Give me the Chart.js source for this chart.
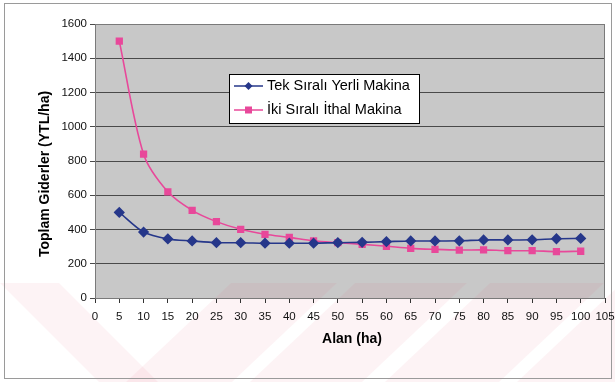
<!DOCTYPE html>
<html>
<head>
<meta charset="utf-8">
<script src="https://cdn.jsdelivr.net/npm/chart.js@4/dist/chart.umd.min.js"></script>
<style>
  html, body { margin: 0; padding: 0; background: #ffffff; }
  canvas { display: block; }
</style>
</head>
<body>
<canvas id="c" width="615" height="382"></canvas>
<script>
// Area (ha) and total costs (YTL/ha) for the two planting machines
const areas = [5, 10, 15, 20, 25, 30, 35, 40, 45, 50, 55, 60, 65, 70, 75, 80, 85, 90, 95, 100];
const tekSiraliYerli = [500, 385, 345, 333, 323, 323, 320, 320, 320, 323, 325, 329, 333, 333, 334, 339, 339, 340, 346, 348];
const ikiSiraliIthal = [1500, 840, 620, 512, 446, 401, 372, 354, 334, 323, 313, 302, 290, 284, 280, 281, 276, 276, 271, 273];
const seriesNames = ['Tek Sıralı Yerli Makina', 'İki Sıralı İthal Makina'];
const xTitle = 'Alan (ha)';
const yTitle = 'Toplam Giderler (YTL/ha)';

const toPoints = (vals) => areas.map((a, i) => ({ x: a, y: vals[i] }));

const FONT = '"Liberation Sans", Arial, sans-serif';
const BLUE = '#26378a';
const PINK = '#e8489a';

// Background, plot fill and the faint stripe print behind the chart
const backdrop = {
  id: 'backdrop',
  beforeDraw(chart) {
    const { ctx, chartArea: a, width, height } = chart;
    ctx.save();
    ctx.fillStyle = '#ffffff';
    ctx.fillRect(0, 0, width, height);
    ctx.fillStyle = '#c8c8c8';
    ctx.fillRect(a.left, a.top, a.right - a.left, a.bottom - a.top);

    ctx.fillStyle = 'rgba(232, 80, 110, 0.07)';
    const top = 283, bot = 382;
    const bands = [
      [[0, top], [59, top], [158, bot], [99, bot]],
      [[231, top], [337, top], [232, bot], [126, bot]],
      [[355, top], [467, top], [362, bot], [250, bot]],
      [[490, top], [604, top], [499, bot], [385, bot]],
      [[622, top], [735, top], [630, bot], [517, bot]]
    ];
    bands.forEach(p => {
      ctx.beginPath();
      ctx.moveTo(p[0][0], p[0][1]);
      for (let i = 1; i < p.length; i++) ctx.lineTo(p[i][0], p[i][1]);
      ctx.closePath();
      ctx.fill();
    });

    // outer frame
    ctx.strokeStyle = '#9a9a9a';
    ctx.lineWidth = 1;
    ctx.strokeRect(4.5, 3.5, 607, 375);
    ctx.restore();
  },
  afterDraw(chart) {
    const { ctx, chartArea: a } = chart;
    ctx.save();
    // plot border
    ctx.strokeStyle = '#7a7a7a';
    ctx.lineWidth = 1;
    ctx.strokeRect(a.left + 0.5, a.top + 0.5, a.right - a.left - 1, a.bottom - a.top);

    // axis titles
    ctx.fillStyle = '#000000';
    ctx.font = 'bold 14px ' + FONT;
    ctx.textAlign = 'center';
    ctx.textBaseline = 'middle';
    ctx.fillText(xTitle, (a.left + a.right) / 2 + 2, 339);
    ctx.translate(45, 174);
    ctx.rotate(-Math.PI / 2);
    ctx.fillText(yTitle, 0, 0);
    ctx.restore();

    // legend box
    ctx.save();
    const lx = 229, ly = 74, lw = 190, lh = 49;
    ctx.fillStyle = '#ffffff';
    ctx.fillRect(lx, ly, lw, lh);
    ctx.strokeStyle = '#000000';
    ctx.lineWidth = 1;
    ctx.strokeRect(lx + 0.5, ly + 0.5, lw, lh);
    ctx.font = '14.5px ' + FONT;
    ctx.textAlign = 'left';
    ctx.textBaseline = 'middle';
    chart.data.datasets.forEach((ds, i) => {
      const cy = ly + 12 + i * 24;
      ctx.strokeStyle = ds.borderColor;
      ctx.lineWidth = 1.5;
      ctx.beginPath();
      ctx.moveTo(lx + 5, cy);
      ctx.lineTo(lx + 34, cy);
      ctx.stroke();
      ctx.fillStyle = ds.pointBackgroundColor;
      if (ds.pointStyle === 'rectRot') {
        ctx.beginPath();
        ctx.moveTo(lx + 19.5, cy - 4);
        ctx.lineTo(lx + 23.5, cy);
        ctx.lineTo(lx + 19.5, cy + 4);
        ctx.lineTo(lx + 15.5, cy);
        ctx.closePath();
        ctx.fill();
      } else {
        ctx.fillRect(lx + 16, cy - 3.5, 7, 7);
      }
      ctx.fillStyle = '#000000';
      ctx.fillText(ds.label, lx + 38, cy);
    });
    ctx.restore();
  }
};

new Chart(document.getElementById('c'), {
  type: 'line',
  data: {
    datasets: [
      {
        label: seriesNames[0],
        data: toPoints(tekSiraliYerli),
        borderColor: BLUE,
        backgroundColor: BLUE,
        pointBackgroundColor: BLUE,
        pointBorderColor: BLUE,
        pointStyle: 'rectRot',
        pointRadius: 4.5,
        borderWidth: 1.6,
        tension: 0.3,
        fill: false
      },
      {
        label: seriesNames[1],
        data: toPoints(ikiSiraliIthal),
        borderColor: PINK,
        backgroundColor: PINK,
        pointBackgroundColor: PINK,
        pointBorderColor: PINK,
        pointStyle: 'rect',
        pointRadius: 4,
        borderWidth: 1.6,
        tension: 0.3,
        fill: false
      }
    ]
  },
  options: {
    responsive: false,
    animation: false,
    devicePixelRatio: 1,
    layout: { padding: { left: 5, top: 24, right: 10, bottom: 4 } },
    plugins: { legend: { display: false }, tooltip: { enabled: false } },
    scales: {
      x: {
        type: 'linear',
        min: 0,
        max: 105,
        afterFit(scale) {
          scale.height = 80;
          scale.paddingLeft = 0;
          scale.paddingRight = 0;
        },
        ticks: {
          stepSize: 5,
          autoSkip: false,
          maxRotation: 0,
          color: '#111111',
          padding: 7,
          font: { family: FONT, size: 11.5 },
          callback: (v) => String(v)
        },
        grid: {
          drawOnChartArea: false,
          drawTicks: true,
          tickLength: 5,
          color: '#333333'
        },
        border: { display: true, color: '#333333', width: 1 }
      },
      y: {
        min: 0,
        max: 1600,
        afterFit(scale) {
          scale.width = 90;
          scale.paddingTop = 0;
          scale.paddingBottom = 0;
        },
        ticks: {
          stepSize: 200,
          color: '#111111',
          padding: 3,
          font: { family: FONT, size: 11.5 },
          callback: (v) => String(v)
        },
        grid: {
          color: '#4a4a4a',
          lineWidth: 1,
          tickLength: 5
        },
        border: { display: true, color: '#333333', width: 1 }
      }
    }
  },
  plugins: [backdrop]
});
</script>
</body>
</html>
